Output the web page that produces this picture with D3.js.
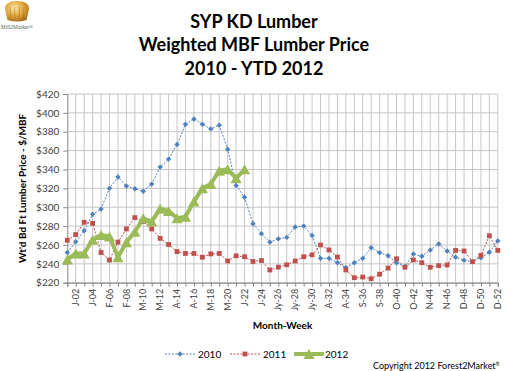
<!DOCTYPE html>
<html>
<head>
<meta charset="utf-8">
<script src="https://cdn.jsdelivr.net/npm/d3@7/dist/d3.min.js"></script>
<style>
  html, body { margin: 0; padding: 0; background: #fff; }
  #chart { width: 510px; height: 371px; }
  text { font-family: Lato, "Open Sans", sans-serif; }
</style>
</head>
<body>
<div id="chart"></div>
<script>
var titleLines = ['SYP KD Lumber', 'Weighted MBF Lumber Price', '2010 - YTD 2012'];
var yTitle = "Wt'd Bd Ft Lumber Price - $/MBF";
var xTitle = 'Month-Week';
var copyright = 'Copyright 2012 Forest2Market';

var weekCount = 52;
var tickLabels = ['J-02', 'J-04', 'F-06', 'F-08', 'M-10', 'M-12', 'A-14', 'A-16', 'M-18', 'M-20',
  'J-22', 'J-24', 'Jy-26', 'Jy-28', 'Jy-30', 'A-32', 'A-34', 'S-36', 'S-38', 'O-40',
  'O-42', 'N-44', 'N-46', 'D-48', 'D-50', 'D-52'];
var yTicks = [220, 240, 260, 280, 300, 320, 340, 360, 380, 400, 420];

var seriesNames = ['2010', '2011', '2012'];
var values2010 = [252, 263.5, 275, 292.5, 298, 320, 332, 322.5, 319.5, 317,
  324.5, 342.5, 351, 366.5, 388, 393.5, 388, 383, 387, 361.5,
  323, 310.5, 282.5, 272, 263, 266.5, 268, 279, 280, 270,
  245.8, 245.8, 241.2, 236, 241.2, 245.8, 257, 251.8, 248.6, 241.2,
  237.1, 250.4, 248, 254.7, 261, 253.6, 247, 243.7, 242.3, 246.5,
  252.2, 264.3];
var values2011 = [265, 271, 284, 283, 252, 244, 263, 277, 289, 285,
  277, 267, 260.5, 253, 251, 251, 247, 250.5, 251, 243,
  248.5, 247.5, 242.5, 243.5, 233.5, 236.5, 239, 243, 247.5, 249.5,
  260, 254.7, 247.2, 233.5, 225.3, 226, 224.2, 229, 235.5, 245.4,
  236.3, 244.1, 241.2, 236.3, 238.1, 238.8, 254.3, 253.6, 242.3, 249,
  269.8, 254.2];
var values2012 = [244.5, 251, 251, 265.5, 270.5, 269, 247, 263, 274, 288.3,
  284.8, 298.5, 296, 288.3, 290, 306, 320, 324.6, 338.7, 340.2,
  330.7, 340.2];

function LumberChart (params) {
  var attrs = {
    container: '#chart',
    width: 510,
    height: 371,
    margin: { top: 94, right: 12.2, bottom: 88.3, left: 67.3 },
    colors: ['#4f81bd', '#c0504d', '#9bbb59'],
    gridColor: '#c6c6c6',
    axisColor: '#868686',
    textColor: '#404040'
  };
  attrs = Object.assign(attrs, params);

  var viz = { container: d3.select(attrs.container), svg: null, chart: null };

  function patternify (p) {
    var data = p.data || [p.selector];
    var sel = p.container.selectAll('.' + p.selector).data(data);
    sel.exit().remove();
    return sel.enter().append(p.tag).merge(sel).attr('class', p.selector);
  }

  function main () {
    var chartWidth = attrs.width - attrs.margin.left - attrs.margin.right;
    var chartHeight = attrs.height - attrs.margin.top - attrs.margin.bottom;

    var x = d3.scaleLinear().domain([1, weekCount]).range([0, chartWidth]);
    var y = d3.scaleLinear().domain([yTicks[0], yTicks[yTicks.length - 1]]).range([chartHeight, 0]);
    var weeks = d3.range(1, weekCount + 1);

    viz.svg = patternify({ container: viz.container, tag: 'svg', selector: 'svg-container' })
      .attr('width', attrs.width)
      .attr('height', attrs.height);

    // logo, top left
    var logo = patternify({ container: viz.svg, tag: 'g', selector: 'logo' })
      .attr('transform', 'translate(17,12)');
    var grad = patternify({ container: viz.svg, tag: 'defs', selector: 'defs' });
    var lg = patternify({ container: grad, tag: 'radialGradient', selector: 'basket' })
      .attr('id', 'basketGrad').attr('cx', '40%').attr('cy', '35%').attr('r', '70%');
    patternify({ container: lg, tag: 'stop', selector: 'stop', data: [['0%', '#fbe7a8'], ['55%', '#e0a63c'], ['100%', '#a86a18']] })
      .attr('offset', d => d[0]).attr('stop-color', d => d[1]);
    patternify({ container: logo, tag: 'path', selector: 'basket-body' })
      .attr('d', 'M-12,-3 Q-12,-11 0,-11 Q12,-11 12,-3 L9.5,8 Q0,11 -9.5,8 Z')
      .attr('fill', 'url(#basketGrad)');
    patternify({ container: logo, tag: 'line', selector: 'basket-rib', data: [-7, -2.5, 2.5, 7] })
      .attr('x1', d => d).attr('x2', d => d * 0.85).attr('y1', -5).attr('y2', 8)
      .attr('stroke', '#9a6418').attr('stroke-width', 0.7).attr('opacity', 0.6);
    patternify({ container: logo, tag: 'text', selector: 'logo-text' })
      .attr('x', 0).attr('y', 17).attr('text-anchor', 'middle')
      .style('font-family', '"Liberation Serif", serif').style('font-size', '5.5px')
      .attr('fill', '#4a6a52').text('Mill2Market\u00ae');

    // title
    patternify({ container: viz.svg, tag: 'text', selector: 'title', data: titleLines })
      .attr('x', 254)
      .attr('y', (d, i) => 27.5 + i * 23.5)
      .attr('text-anchor', 'middle')
      .style('font-size', '18px')
      .style('font-weight', 'bold')
      .attr('fill', '#000')
      .text(d => d);

    viz.chart = patternify({ container: viz.svg, tag: 'g', selector: 'chart' })
      .attr('transform', `translate(${attrs.margin.left}, ${attrs.margin.top})`);

    // gridlines
    patternify({ container: viz.chart, tag: 'line', selector: 'hgrid', data: yTicks })
      .attr('x1', 0).attr('x2', chartWidth)
      .attr('y1', d => y(d)).attr('y2', d => y(d))
      .attr('stroke', attrs.gridColor).attr('stroke-width', 1);
    patternify({ container: viz.chart, tag: 'line', selector: 'vgrid', data: weeks.slice(1) })
      .attr('x1', d => x(d)).attr('x2', d => x(d))
      .attr('y1', 0).attr('y2', chartHeight)
      .attr('stroke', attrs.gridColor).attr('stroke-width', 1);

    // axes
    var yAxis = d3.axisLeft(y).tickValues(yTicks).tickSize(4).tickFormat(d => '$' + d);
    var yG = patternify({ container: viz.chart, tag: 'g', selector: 'y-axis' }).call(yAxis);
    yG.select('.domain').attr('stroke', attrs.axisColor);
    yG.selectAll('.tick line').attr('stroke', attrs.axisColor);
    yG.selectAll('.tick text')
      .attr('x', -8)
      .style('font-size', '10px')
      .style('font-family', 'Lato, sans-serif')
      .attr('fill', attrs.textColor);

    var xAxis = d3.axisBottom(x).tickValues(weeks).tickSize(4).tickFormat('');
    var xG = patternify({ container: viz.chart, tag: 'g', selector: 'x-axis' })
      .attr('transform', `translate(0, ${chartHeight})`)
      .call(xAxis);
    xG.select('.domain').attr('stroke', attrs.axisColor);
    xG.selectAll('.tick line').attr('stroke', attrs.axisColor);

    patternify({ container: viz.chart, tag: 'text', selector: 'x-label', data: tickLabels })
      .attr('transform', (d, i) => `translate(${x((i + 1) * 2)}, ${chartHeight + 6}) rotate(-90)`)
      .attr('text-anchor', 'end')
      .attr('dy', '0.35em')
      .style('font-size', '9px')
      .attr('fill', attrs.textColor)
      .text(d => d);

    // axis titles
    patternify({ container: viz.svg, tag: 'text', selector: 'y-title' })
      .attr('transform', `translate(22, ${attrs.margin.top + chartHeight / 2}) rotate(-90)`)
      .attr('text-anchor', 'middle')
      .attr('dy', '0.35em')
      .style('font-size', '10px')
      .style('font-weight', 'bold')
      .text(yTitle);
    patternify({ container: viz.svg, tag: 'text', selector: 'x-title' })
      .attr('x', attrs.margin.left + chartWidth / 2)
      .attr('y', 329)
      .attr('text-anchor', 'middle')
      .style('font-size', '10px')
      .style('font-weight', 'bold')
      .text(xTitle);

    // series
    var line = d3.line().x((d, i) => x(i + 1)).y(d => y(d));
    var allSeries = [values2010, values2011, values2012];

    patternify({ container: viz.chart, tag: 'path', selector: 'series-line', data: allSeries })
      .attr('d', d => line(d))
      .attr('fill', 'none')
      .attr('stroke', (d, i) => attrs.colors[i])
      .attr('stroke-width', (d, i) => i === 2 ? 4 : 1)
      .attr('stroke-dasharray', (d, i) => i === 2 ? null : '2,1.5')
      .attr('stroke-linejoin', 'round');

    var markerPaths = [
      'M0,-2.7L2.7,0L0,2.7L-2.7,0Z',
      'M-2.4,-2.4H2.4V2.4H-2.4Z',
      'M0,-5L5.6,5H-5.6Z'
    ];

    allSeries.forEach(function (vals, s) {
      patternify({ container: viz.chart, tag: 'path', selector: 'marker-' + s, data: vals })
        .attr('transform', (d, i) => `translate(${x(i + 1)}, ${y(d)})`)
        .attr('d', markerPaths[s])
        .attr('fill', attrs.colors[s]);
    });

    // legend
    var legendX = [165, 230, 294];
    var legendY = 354;
    var legend = patternify({ container: viz.svg, tag: 'g', selector: 'legend-item', data: seriesNames })
      .attr('transform', (d, i) => `translate(${legendX[i]}, ${legendY})`);
    legend.each(function (name, i) {
      var g = d3.select(this);
      patternify({ container: g, tag: 'line', selector: 'legend-line' })
        .attr('x1', 0).attr('x2', 30).attr('y1', 0).attr('y2', 0)
        .attr('stroke', attrs.colors[i])
        .attr('stroke-width', i === 2 ? 4 : 1)
        .attr('stroke-dasharray', i === 2 ? null : '2,1.5');
      patternify({ container: g, tag: 'path', selector: 'legend-marker' })
        .attr('transform', 'translate(15,0)')
        .attr('d', markerPaths[i])
        .attr('fill', attrs.colors[i]);
      patternify({ container: g, tag: 'text', selector: 'legend-text' })
        .attr('x', i === 2 ? 31 : 33).attr('y', 0).attr('dy', '0.35em')
        .style('font-size', '10px')
        .attr('fill', '#000')
        .text(name);
    });

    // copyright
    var copy = patternify({ container: viz.svg, tag: 'text', selector: 'copyright' })
      .attr('x', 373).attr('y', 369)
      .style('font-size', '9px')
      .attr('fill', '#000');
    copy.text(copyright);
    copy.append('tspan').attr('dy', -3).style('font-size', '5px').text('\u00ae');
  }

  main.render = function () {
    main();
    return main;
  };

  return main;
}

LumberChart({ container: '#chart' }).render();
</script>
</body>
</html>
